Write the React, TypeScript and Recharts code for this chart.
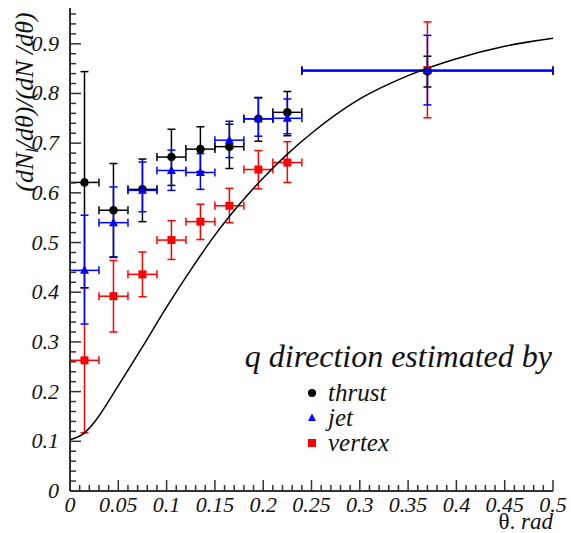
import { ComposedChart, Scatter, Line, XAxis, YAxis, ErrorBar } from 'recharts';

// bins in theta (rad); the last one is a wide bin 0.24 - 0.50
const binCenters = [0.015, 0.045, 0.075, 0.105, 0.135, 0.165, 0.195, 0.225, 0.37];
const binHalfWidths = [0.015, 0.015, 0.015, 0.015, 0.015, 0.015, 0.015, 0.015, 0.13];

const thrustValues = [0.621, 0.565, 0.607, 0.672, 0.688, 0.693, 0.749, 0.762, 0.845];
const thrustErrLow = [0.212, 0.094, 0.065, 0.057, 0.045, 0.044, 0.045, 0.047, 0.032];
const thrustErrHigh = [0.223, 0.094, 0.061, 0.056, 0.045, 0.045, 0.043, 0.042, 0.03];

const jetValues = [0.444, 0.54, 0.605, 0.645, 0.641, 0.706, 0.749, 0.75, 0.846];
const jetErrLow = [0.108, 0.07, 0.043, 0.04, 0.034, 0.035, 0.035, 0.031, 0.069];
const jetErrHigh = [0.111, 0.072, 0.057, 0.041, 0.038, 0.038, 0.042, 0.039, 0.071];

const vertexValues = [0.263, 0.392, 0.436, 0.505, 0.542, 0.574, 0.647, 0.661, 0.847];
const vertexErrLow = [0.146, 0.072, 0.045, 0.039, 0.036, 0.034, 0.039, 0.04, 0.096];
const vertexErrHigh = [0.146, 0.072, 0.045, 0.039, 0.035, 0.035, 0.038, 0.042, 0.097];

// expectation curve
const curveX = [0, 0.015, 0.025, 0.05, 0.075, 0.1, 0.125, 0.15, 0.175, 0.2, 0.225, 0.25, 0.3, 0.35, 0.4, 0.45, 0.5];
const curveY = [0.103, 0.117, 0.138, 0.212, 0.29, 0.37, 0.445, 0.515, 0.576, 0.63, 0.678, 0.72, 0.789, 0.836, 0.87, 0.895, 0.911];

// axis ticks: majors every 5th tick
const xTicks = Array.from({ length: 51 }, (_, i) => i / 100);
const yTicks = Array.from({ length: 49 }, (_, i) => i / 50);

const serif = { fontFamily: "'Liberation Serif'", fontStyle: 'italic' as const };

const toPoints = (vals: number[], lo: number[], hi: number[]) =>
  binCenters.map((x, i) => ({ x, y: vals[i], ex: binHalfWidths[i], ey: [lo[i], hi[i]] }));

const thrustData = toPoints(thrustValues, thrustErrLow, thrustErrHigh);
const jetData = toPoints(jetValues, jetErrLow, jetErrHigh);
const vertexData = toPoints(vertexValues, vertexErrLow, vertexErrHigh);
const curveData = curveX.map((x, i) => ({ x, y: curveY[i] }));

const fmt = (v: number) => String(Number(v.toFixed(2)));

const XTick = ({ x, y, index }: any) => {
  const major = index % 5 === 0;
  return (
    <g>
      <line x1={x} x2={x} y1={y} y2={y - (major ? 11 : 6)} stroke="#333" strokeWidth={1.5} />
      {major && (
        <text x={x} y={y + 21} textAnchor="middle" style={{ ...serif, fontSize: 22 }} fill="#111">
          {fmt(xTicks[index])}
        </text>
      )}
    </g>
  );
};

const YTick = ({ x, y, index }: any) => {
  const major = index % 5 === 0;
  return (
    <g>
      <line x1={x} x2={x + (major ? 11 : 6)} y1={y} y2={y} stroke="#333" strokeWidth={1.5} />
      {major && (
        <text x={x - 11} y={y + 7} textAnchor="end" style={{ ...serif, fontSize: 22 }} fill="#111">
          {fmt(yTicks[index])}
        </text>
      )}
    </g>
  );
};

const Dot = ({ cx, cy }: any) => <circle cx={cx} cy={cy} r={4.3} fill="#000" />;
const Tri = ({ cx, cy }: any) => (
  <polygon points={`${cx},${cy - 5} ${cx - 4.5},${cy + 3.5} ${cx + 4.5},${cy + 3.5}`} fill="#0000ff" />
);
const Sq = ({ cx, cy }: any) => <rect x={cx - 4} y={cy - 4} width={8} height={8} fill="#ff0000" />;

const YLabel = () => (
  <text transform="translate(33,102) rotate(-90)" textAnchor="middle" style={{ ...serif, fontSize: 26 }} fill="#111">
    (dN<tspan dy={5} style={{ fontSize: 16 }}>l</tspan>
    <tspan dy={-5}>/dθ)/(dN /dθ)</tspan>
  </text>
);

const XLabel = () => (
  <text x={553} y={529} textAnchor="end" style={{ fontFamily: "'Liberation Serif'", fontSize: 23 }} fill="#111">
    θ. <tspan style={{ fontStyle: 'italic' }}>rad</tspan>
  </text>
);

const legendItems = [
  { name: 'thrust', color: '#000' },
  { name: 'jet', color: '#0000ff' },
  { name: 'vertex', color: '#ff0000' },
];

function Legend() {
  return (
    <svg width={571} height={533} style={{ position: 'absolute', left: 0, top: 0, pointerEvents: 'none' }}>
      <text x={552} y={367} textAnchor="end" style={{ ...serif, fontSize: 32 }} fill="#111">
        q direction estimated by
      </text>
      {legendItems.map((item, i) => {
        const cy = 393 + i * 25;
        return (
          <g key={item.name}>
            {i === 0 && <circle cx={312} cy={cy} r={4} fill={item.color} />}
            {i === 1 && <polygon points={`312,${cy - 4.5} 308,${cy + 3} 316,${cy + 3}`} fill={item.color} />}
            {i === 2 && <rect x={308} y={cy - 4} width={8} height={8} fill={item.color} />}
            <text x={328} y={cy + 8} style={{ ...serif, fontSize: 25 }} fill="#111">
              {item.name}
            </text>
          </g>
        );
      })}
    </svg>
  );
}

export default function App() {
  return (
    <div style={{ position: 'absolute', left: 0, top: 0, width: 571, height: 533, background: '#fff' }}>
      <ComposedChart width={571} height={533} margin={{ top: 8, right: 18, left: 0, bottom: 0 }}>
        <XAxis
          dataKey="x"
          type="number"
          domain={[0, 0.5]}
          ticks={xTicks}
          interval={0}
          tickSize={0}
          tickMargin={0}
          tickLine={false}
          height={42}
          axisLine={{ stroke: '#333', strokeWidth: 2 }}
          tick={(p: any) => <XTick {...p} />}
          label={{ content: () => <XLabel /> }}
        />
        <XAxis xAxisId="top" orientation="top" type="number" domain={[0, 0.5]} height={0} tick={false} tickLine={false} axisLine={{ stroke: '#000', strokeWidth: 1 }} />
        <YAxis
          dataKey="y"
          type="number"
          domain={[0, 0.972]}
          ticks={yTicks}
          interval={0}
          tickSize={0}
          tickMargin={0}
          tickLine={false}
          width={70}
          axisLine={{ stroke: '#333', strokeWidth: 2 }}
          tick={(p: any) => <YTick {...p} />}
          label={{ content: () => <YLabel /> }}
        />
        <YAxis yAxisId="right" orientation="right" type="number" domain={[0, 0.972]} width={0} tick={false} tickLine={false} axisLine={{ stroke: '#000', strokeWidth: 1 }} />

        <Scatter data={vertexData} shape={(p: any) => <Sq {...p} />} isAnimationActive={false}>
          <ErrorBar dataKey="ey" direction="y" width={4} stroke="#ff0000" strokeWidth={1.5} />
          <ErrorBar dataKey="ex" direction="x" width={4} stroke="#ff0000" strokeWidth={1.5} />
        </Scatter>
        <Scatter data={thrustData} shape={(p: any) => <Dot {...p} />} isAnimationActive={false}>
          <ErrorBar dataKey="ey" direction="y" width={4} stroke="#000" strokeWidth={1.5} />
          <ErrorBar dataKey="ex" direction="x" width={4} stroke="#000" strokeWidth={1.5} />
        </Scatter>
        <Scatter data={jetData} shape={(p: any) => <Tri {...p} />} isAnimationActive={false}>
          <ErrorBar dataKey="ey" direction="y" width={4} stroke="#0000ff" strokeWidth={1.5} />
          <ErrorBar dataKey="ex" direction="x" width={4} stroke="#0000ff" strokeWidth={1.5} />
        </Scatter>
        <Line data={curveData} dataKey="y" type="monotone" dot={false} activeDot={false} stroke="#000" strokeWidth={1.5} isAnimationActive={false} />
      </ComposedChart>
      <Legend />
    </div>
  );
}
